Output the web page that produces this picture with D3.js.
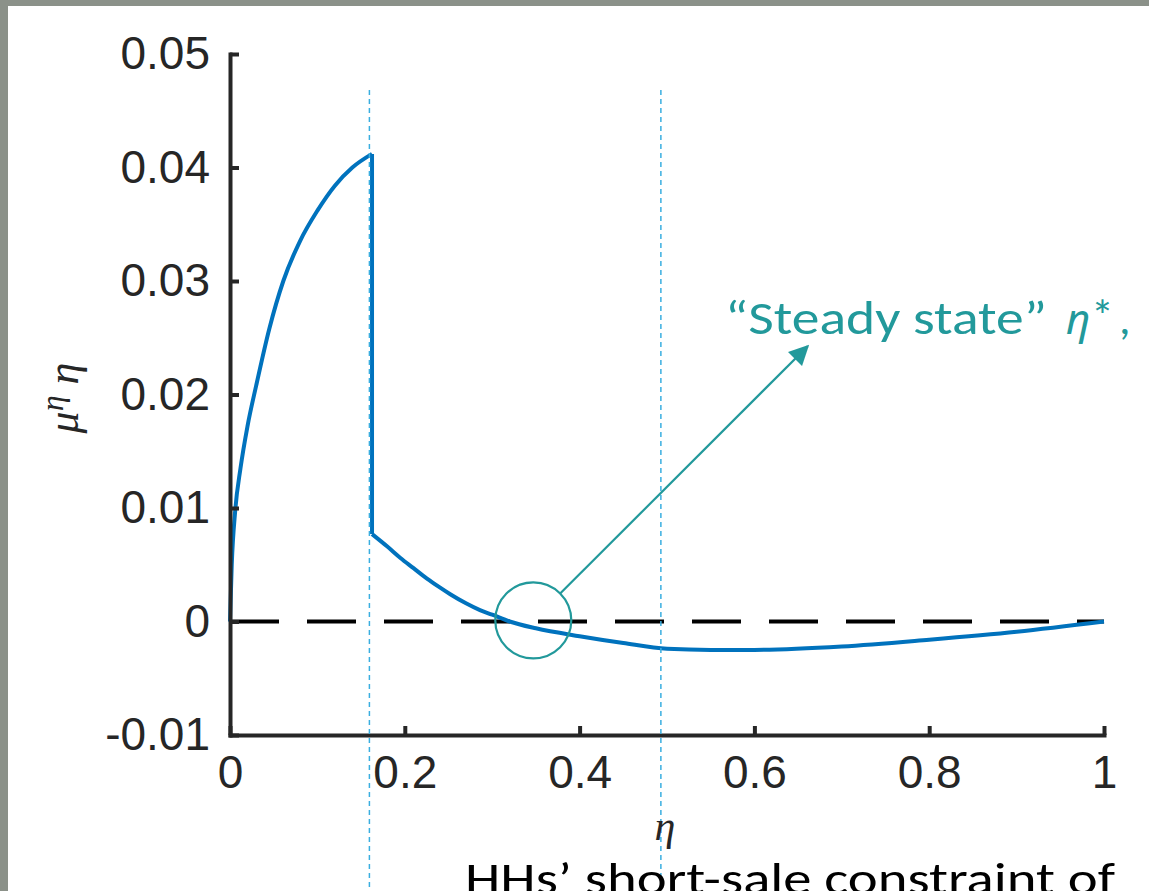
<!DOCTYPE html>
<html>
<head>
<meta charset="utf-8">
<script src="https://cdn.jsdelivr.net/npm/d3@7"></script>
<style>
  html, body { margin: 0; padding: 0; background: #8b9189; }
  svg { display: block; }
</style>
</head>
<body>
<div id="chart"></div>
<script>
// left branch (before the jump)
const etaLeft = [0, 0.002, 0.006, 0.012, 0.02, 0.03, 0.045, 0.061, 0.08, 0.1, 0.12, 0.14, 0.1625];
const muLeft = [0, 0.005, 0.0098, 0.0135, 0.0172, 0.0208, 0.0258, 0.03, 0.0335, 0.0362, 0.0384, 0.04, 0.0412];

// right branch (after the jump)
const etaRight = [0.1625, 0.18, 0.195, 0.21, 0.225, 0.24, 0.252, 0.27, 0.286, 0.3, 0.32, 0.35, 0.4, 0.45, 0.5, 0.55, 0.6, 0.7, 0.8, 0.9, 1.0];
const muRight = [0.0077, 0.0066, 0.0056, 0.0047, 0.0038, 0.003, 0.0024, 0.0016, 0.001, 0.0006, 0.0, -0.0006, -0.0013, -0.0019, -0.0024, -0.0025, -0.0025, -0.0022, -0.0016, -0.0009, 0];

const xTicks = [0, 0.2, 0.4, 0.6, 0.8, 1];
const xTickLabels = ["0", "0.2", "0.4", "0.6", "0.8", "1"];
const yTicks = [-0.01, 0, 0.01, 0.02, 0.03, 0.04, 0.05];
const yTickLabels = ["-0.01", "0", "0.01", "0.02", "0.03", "0.04", "0.05"];

// vertical marker lines (eta values)
const markerEta = [0.1595, 0.493];

// annotation anchors in data units
const circleAt = [0.347, 0.0001];
const arrowTip = [0.661, 0.02425];

const W = 1149, H = 891;

const svg = d3.select("#chart").append("svg")
  .attr("width", W)
  .attr("height", H);

// slide frame
svg.append("rect").attr("x", 0).attr("y", 0).attr("width", W).attr("height", H).attr("fill", "#8b9189");
svg.append("rect").attr("x", 8).attr("y", 6).attr("width", W - 8).attr("height", H - 6).attr("fill", "#ffffff");

const x = d3.scaleLinear().domain([0, 1]).range([230, 1104]);
const y = d3.scaleLinear().domain([-0.01, 0.05]).range([735, 54]);

const defs = svg.append("defs");
defs.append("marker")
  .attr("id", "arrow")
  .attr("viewBox", "0 0 10 10")
  .attr("refX", 9)
  .attr("refY", 5)
  .attr("markerWidth", 20)
  .attr("markerHeight", 20)
  .attr("markerUnits", "userSpaceOnUse")
  .attr("orient", "auto")
  .append("path")
  .attr("d", "M0,0 L10,5 L0,10 Z")
  .attr("fill", "#22999b");

// zero line
svg.append("line")
  .attr("x1", x(0)).attr("x2", x(1))
  .attr("y1", y(0)).attr("y2", y(0))
  .attr("stroke", "#000")
  .attr("stroke-width", 4)
  .attr("stroke-dasharray", "49,28");

// curve
const line = d3.line()
  .x((d) => x(d[0]))
  .y((d) => y(d[1]))
  .curve(d3.curveMonotoneX);

const leftData = etaLeft.map((e, i) => [e, muLeft[i]]);
const rightData = etaRight.map((e, i) => [e, muRight[i]]);

svg.append("path")
  .datum(leftData)
  .attr("d", line)
  .attr("fill", "none")
  .attr("stroke", "#0072bd")
  .attr("stroke-width", 4);

svg.append("path")
  .datum(rightData)
  .attr("d", line)
  .attr("fill", "none")
  .attr("stroke", "#0072bd")
  .attr("stroke-width", 4);

// the jump
svg.append("path")
  .datum([leftData[leftData.length - 1], rightData[0]])
  .attr("d", d3.line().x((d) => x(d[0])).y((d) => y(d[1])))
  .attr("fill", "none")
  .attr("stroke", "#0072bd")
  .attr("stroke-width", 4);

// axes (MATLAB style, ticks inward, box off)
const xAxis = d3.axisBottom(x)
  .tickValues(xTicks)
  .tickFormat((d, i) => xTickLabels[i])
  .tickSizeInner(-9)
  .tickSizeOuter(0)
  .tickPadding(20);

const yAxis = d3.axisLeft(y)
  .tickValues(yTicks)
  .tickFormat((d, i) => yTickLabels[i])
  .tickSizeInner(-9)
  .tickSizeOuter(0)
  .tickPadding(20);

const gx = svg.append("g")
  .attr("transform", "translate(0," + y(-0.01) + ")")
  .call(xAxis);

const gy = svg.append("g")
  .attr("transform", "translate(" + x(0) + ",0)")
  .call(yAxis);

[gx, gy].forEach((g) => {
  g.select(".domain").attr("stroke", "#262626").attr("stroke-width", 4).attr("stroke-linecap", "square");
  g.selectAll(".tick line").attr("stroke", "#262626").attr("stroke-width", 4);
  g.selectAll(".tick text")
    .attr("fill", "#262626")
    .style("font-family", "'Liberation Sans', Arial, sans-serif")
    .style("font-size", "46px");
});

// vertical dotted marker lines
svg.selectAll(".marker-line")
  .data(markerEta)
  .enter()
  .append("line")
  .attr("class", "marker-line")
  .attr("x1", (d) => x(d)).attr("x2", (d) => x(d))
  .attr("y1", 90).attr("y2", H)
  .attr("stroke", "#3aaee0")
  .attr("stroke-width", 1.5)
  .attr("stroke-dasharray", "5,4");

// axis labels
svg.append("text")
  .attr("x", 665)
  .attr("y", 840)
  .attr("text-anchor", "middle")
  .style("font-family", "'Liberation Serif', 'DejaVu Serif', serif")
  .style("font-style", "italic")
  .style("font-size", "42px")
  .attr("fill", "#262626")
  .text("η");

const yl = svg.append("text")
  .attr("transform", "translate(78,398) rotate(-90)")
  .attr("text-anchor", "middle")
  .style("font-family", "'Liberation Serif', 'DejaVu Serif', serif")
  .style("font-style", "italic")
  .style("font-size", "44px")
  .attr("fill", "#262626");
yl.append("tspan").text("μ");
yl.append("tspan").attr("dy", -15).style("font-size", "32px").text("η");
yl.append("tspan").attr("dy", 15).text(" η");

// steady state annotation
svg.append("circle")
  .attr("cx", x(circleAt[0]))
  .attr("cy", y(circleAt[1]))
  .attr("r", 38)
  .attr("fill", "none")
  .attr("stroke", "#22999b")
  .attr("stroke-width", 2.2);

const ang = Math.atan2(y(arrowTip[1]) - y(circleAt[1]), x(arrowTip[0]) - x(circleAt[0]));
svg.append("line")
  .attr("x1", x(circleAt[0]) + 38 * Math.cos(ang))
  .attr("y1", y(circleAt[1]) + 38 * Math.sin(ang))
  .attr("x2", x(arrowTip[0]))
  .attr("y2", y(arrowTip[1]))
  .attr("stroke", "#22999b")
  .attr("stroke-width", 2.2)
  .attr("marker-end", "url(#arrow)");

const calibri = "Carlito, Lato, 'Open Sans', sans-serif";

svg.append("text")
  .attr("x", 725)
  .attr("y", 334)
  .attr("textLength", 322)
  .attr("lengthAdjust", "spacingAndGlyphs")
  .style("font-family", calibri)
  .style("font-size", "47px")
  .attr("fill", "#22999b")
  .text("“Steady state”");

svg.append("text")
  .attr("x", 1066)
  .attr("y", 334)
  .style("font-family", "'Noto Sans', 'DejaVu Sans', sans-serif")
  .style("font-style", "italic")
  .style("font-size", "42px")
  .attr("fill", "#22999b")
  .text("η");

svg.append("text")
  .attr("x", 1091)
  .attr("y", 331)
  .style("font-family", calibri)
  .style("font-size", "46px")
  .attr("fill", "#22999b")
  .text("*");

svg.append("text")
  .attr("x", 1119)
  .attr("y", 334)
  .style("font-family", calibri)
  .style("font-size", "46px")
  .attr("fill", "#22999b")
  .text(",");

// caption cut off at the bottom edge, as in the slide
svg.append("text")
  .attr("x", 465)
  .attr("y", 894)
  .attr("textLength", 650)
  .attr("lengthAdjust", "spacingAndGlyphs")
  .style("font-family", calibri)
  .style("font-size", "46px")
  .attr("fill", "#000")
  .text("HHs’ short-sale constraint of");
</script>
</body>
</html>
